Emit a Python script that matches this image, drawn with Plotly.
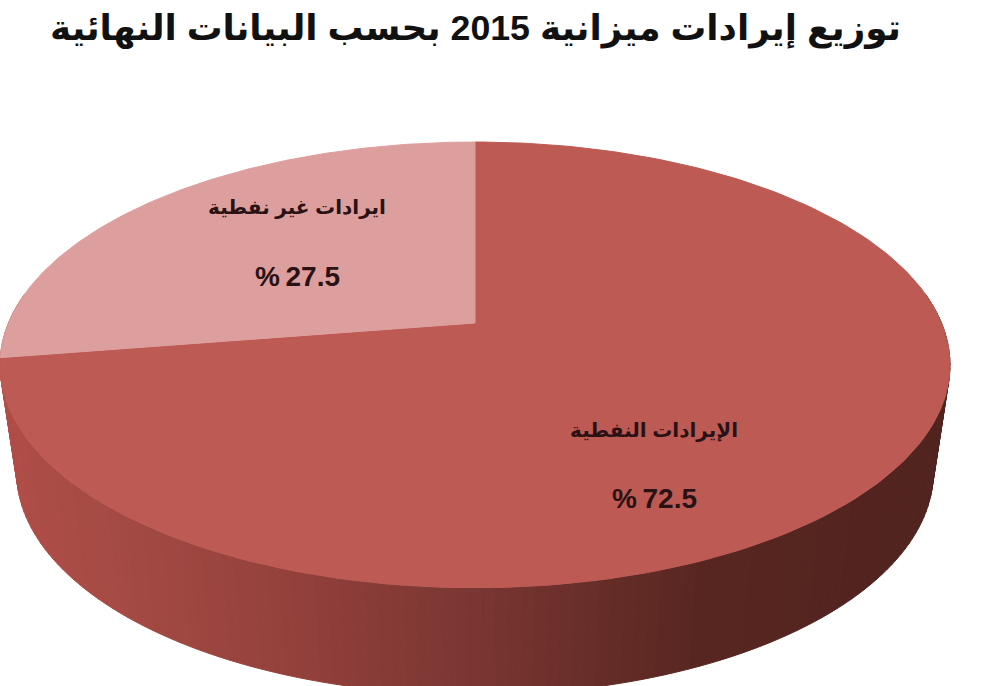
import numpy as np
import plotly.graph_objects as go

title = "توزيع إيرادات ميزانية 2015 بحسب البيانات النهائية"
labels = ["الإيرادات النفطية", "ايرادات غير نفطية"]
shares = [72.5, 27.5]
colors = ["#bd5a54", "#dd9f9e"]

# pie geometry in page pixels
cx, cy = 475, 323
a, b, k = 466.5, 215, 0.188
depth = 107
bottom_scale = 0.965


def project(t, scale=1.0, dy=0):
    # circle seen in perspective, t runs clockwise from the top
    u, v = np.sin(t), np.cos(t)
    w = 1 + k * v
    return cx + scale * a * u / w, cy + dy - b * v / w


fig = go.Figure()

# side wall, painted as thin strips from left to right
edge = np.radians(np.linspace(82, 278, 150))
stops = [0, 100, 300, 475, 700, 900, 950]
for t0, t1 in zip(edge[:-1], edge[1:]):
    x0, y0 = project(t0)
    x1, y1 = project(t1)
    x2, y2 = project(t1, bottom_scale, depth)
    x3, y3 = project(t0, bottom_scale, depth)
    mid = (x0 + x1) / 2
    r = np.interp(mid, stops, [176, 166, 146, 122, 88, 82, 82])
    g = np.interp(mid, stops, [77, 75, 64, 54, 38, 36, 36])
    c = np.interp(mid, stops, [71, 69, 59, 50, 33, 31, 31])
    col = f"rgb({r:.0f},{g:.0f},{c:.0f})"
    fig.add_trace(go.Scatter(
        x = [x0, x1, x2, x3, x0],
        y = [y0, y1, y2, y3, y0],
        mode = "lines",
        fill = "toself",
        fillcolor = col,
        line = dict(color = col, width = 1),
        hoverinfo = "skip",
        showlegend = False
    ))

# top face
start = 0.0
for share, col in zip(shares, colors):
    t = np.linspace(start, start + 2 * np.pi * share / sum(shares), 200)
    x, y = project(t)
    fig.add_trace(go.Scatter(
        x = [cx, *x, cx],
        y = [cy, *y, cy],
        mode = "lines",
        fill = "toself",
        fillcolor = col,
        line = dict(color = col, width = 1),
        hoverinfo = "skip",
        showlegend = False
    ))
    start += 2 * np.pi * share / sum(shares)

font_family = "Liberation Sans, DejaVu Sans"
fig.add_annotation(x = 475, y = 28, text = f"<b>{title}</b>", showarrow = False,
                   font = dict(size = 35.7, color = "#111111", family = font_family))
positions = [(654, 430, 498), (297, 207, 276)]
for lab, share, (px_, y1, y2) in zip(labels, shares, positions):
    fig.add_annotation(x = px_, y = y1, text = f"<b>{lab}</b>", showarrow = False,
                       font = dict(size = 20, color = "#2a1214", family = font_family))
    fig.add_annotation(x = px_, y = y2, text = f"<b>%\u2009{share}</b>", showarrow = False,
                       font = dict(size = 28, color = "#2a1214", family = font_family))

fig.update_xaxes(range = [0, 1000], visible = False, fixedrange = True)
fig.update_yaxes(range = [686, 0], visible = False, fixedrange = True)
fig.update_layout(
    width = 1000,
    height = 686,
    margin = dict(r = 0, t = 0, l = 0, b = 0),
    paper_bgcolor = "white",
    plot_bgcolor = "white",
    showlegend = False
)
fig.write_html("out.html", post_script = "document.body.style.margin = '0';",
               config = dict(displayModeBar = False))
